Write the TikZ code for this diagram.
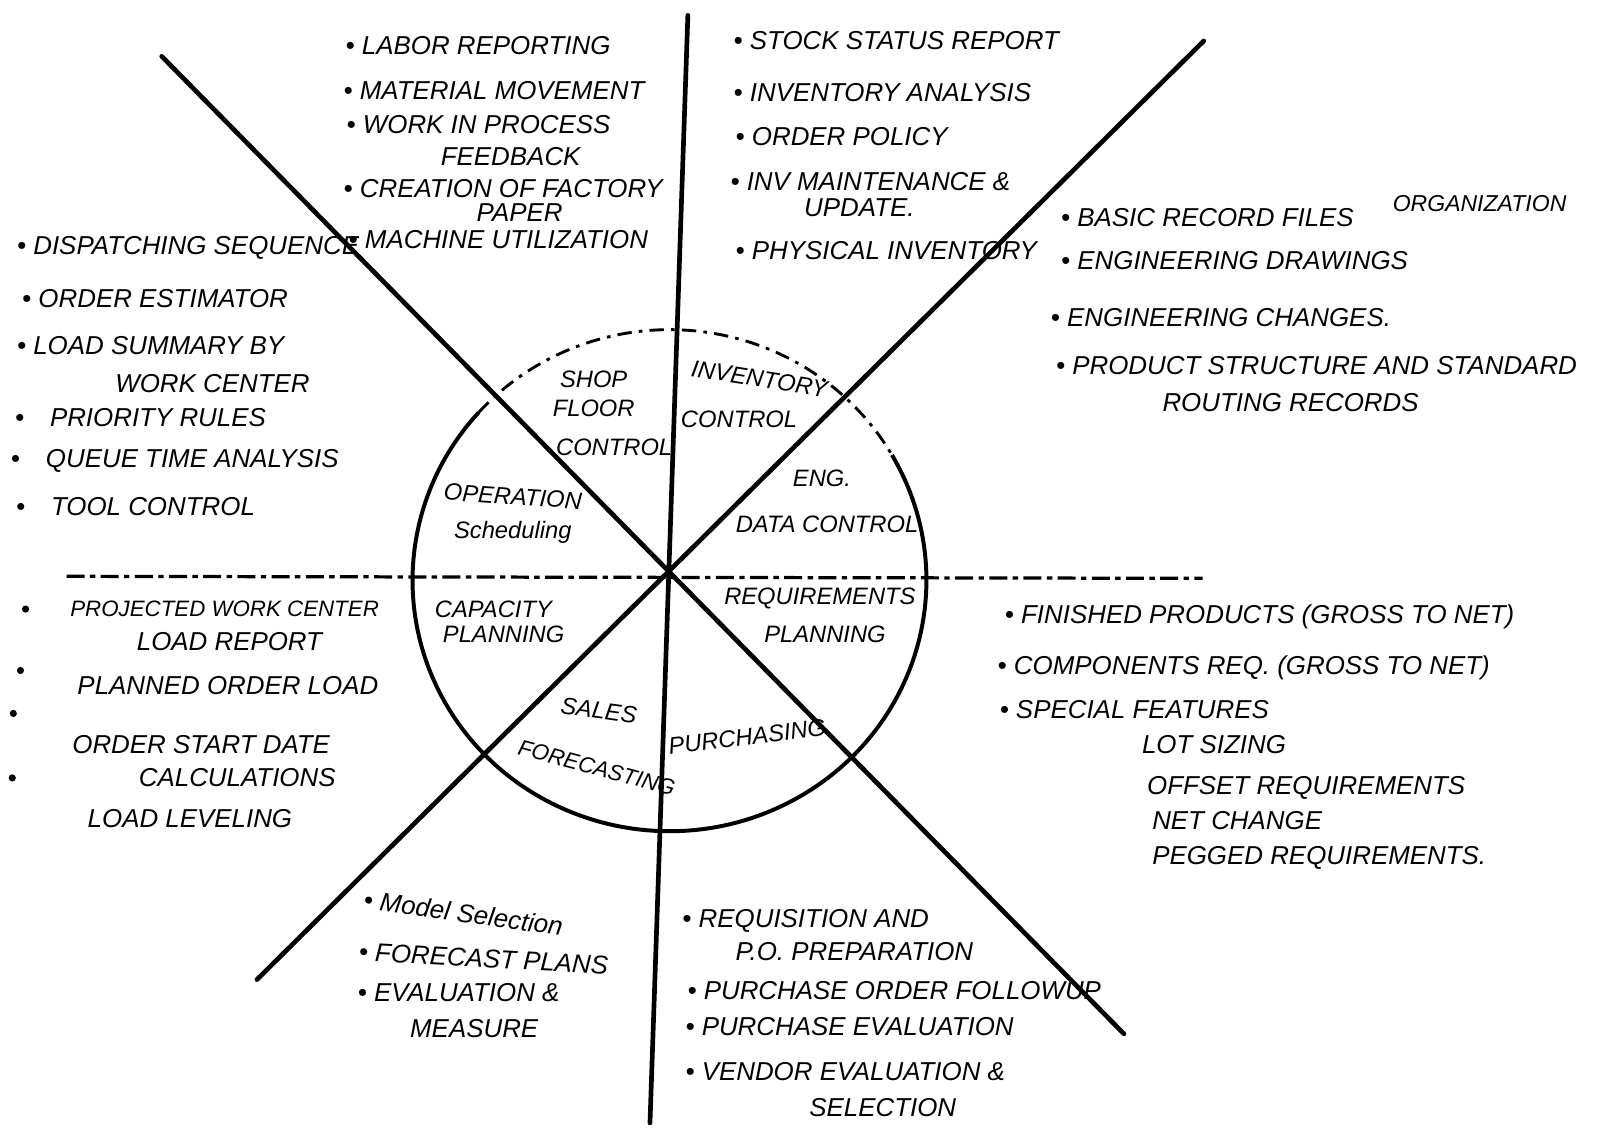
\documentclass[tikz,border=0pt]{standalone}
\usepackage{fontspec}
\newfontfamily\handfont{Liberation Sans}

\tikzset{
  note/.style={anchor=west,inner sep=0pt,font=\handfont\itshape\fontsize{7.2}{8}\selectfont},
  sector/.style={inner sep=0pt,align=center,font=\handfont\itshape\fontsize{6.6}{8}\selectfont},
  spoke/.style={line width=1.3pt,line cap=round},
  rim/.style={line width=1.1pt},
  splitline/.style={line width=0.9pt,dash pattern=on 5pt off 1.5pt on 1.5pt off 1.5pt},
}

\begin{document}
\begin{tikzpicture}[x=0.1mm,y=-0.1mm]
  \useasboundingbox (0,0) rectangle (1568,1106);

  \coordinate (hub) at (654,567);
  \coordinate (vtop) at (672,15);    \coordinate (vbot) at (635,1097);
  \coordinate (nwend) at (158,55);   \coordinate (seend) at (1098,1010);
  \coordinate (neend) at (1176,40);  \coordinate (swend) at (251,957);
  \coordinate (wend) at (65,563);    \coordinate (eend) at (1175,565);

  \draw[splitline] (wend)--(eend);
  \draw[rim] (871.4,444.5) arc[start angle=-30,end angle=222,x radius=251,y radius=245];
  \draw[line width=0.8pt,dash pattern=on 4pt off 2pt on 1pt off 2pt]
    (467.5,403.1) arc[start angle=-138,end angle=-30,x radius=251,y radius=245];
  \draw[spoke] (vtop)--(vbot) (nwend)--(seend) (neend)--(swend);

  \node[sector] (shop) at (580,385) {SHOP\\FLOOR};
  \node[sector] (shopb) at (600,437) {CONTROL};
  \node[sector,rotate=-9] (inv) at (742,370) {INVENTORY};
  \node[sector] (invb) at (722,410) {CONTROL};
  \node[sector] (eng) at (803,467) {ENG.};
  \node[sector] (engb) at (808,512) {DATA CONTROL};
  \node[sector,rotate=-4] (oper) at (501,485) {OPERATION};
  \node[sector] (operb) at (501,520) {Scheduling};
  \node[sector] (cap) at (482,595) {CAPACITY};
  \node[sector] (capb) at (492,620) {PLANNING};
  \node[sector] (req) at (801,585) {REQUIREMENTS};
  \node[sector] (reqb) at (806,620) {PLANNING};
  \node[sector,rotate=-8] (sales) at (585,694) {SALES};
  \node[sector,rotate=-15,font=\handfont\itshape\fontsize{6.2}{8}\selectfont] (salesb) at (583,750) {FORECASTING};
  \node[sector,rotate=7] (purch) at (730,720) {PURCHASING};

  \foreach \x/\y/\t [count=\i] in {
      337/45/{\textbullet\ LABOR REPORTING},
      335/88/{\textbullet\ MATERIAL MOVEMENT},
      338/122/{\textbullet\ WORK IN PROCESS},
      430/153/{FEEDBACK},
      335/184/{\textbullet\ CREATION OF FACTORY},
      465/208/{PAPER},
      340/234/{\textbullet\ MACHINE UTILIZATION}}
    \node[note] (shopl\i) at (\x,\y) {\t};

  \foreach \x/\y/\t [count=\i] in {
      716/40/{\textbullet\ STOCK STATUS REPORT},
      716/90/{\textbullet\ INVENTORY ANALYSIS},
      718/133/{\textbullet\ ORDER POLICY},
      713/177/{\textbullet\ INV MAINTENANCE \&},
      785/203/{UPDATE.},
      718/245/{\textbullet\ PHYSICAL INVENTORY}}
    \node[note] (invl\i) at (\x,\y) {\t};

  \foreach \x/\y/\t [count=\i] in {
      1036/213/{\textbullet\ BASIC RECORD FILES},
      1036/255/{\textbullet\ ENGINEERING DRAWINGS},
      1026/310/{\textbullet\ ENGINEERING CHANGES.},
      1031/357/{\textbullet\ PRODUCT STRUCTURE AND STANDARD},
      1135/393/{ROUTING RECORDS}}
    \node[note] (engl\i) at (\x,\y) {\t};
  \node[note,font=\handfont\itshape\fontsize{6.4}{7}\selectfont] (engorg) at (1360,199) {ORGANIZATION};

  \foreach \x/\y/\t [count=\i] in {
      16/242/{\textbullet\ DISPATCHING SEQUENCE},
      21/292/{\textbullet\ ORDER ESTIMATOR},
      16/338/{\textbullet\ LOAD SUMMARY BY},
      112/375/{WORK CENTER},
      14/408/{\textbullet\quad PRIORITY RULES},
      10/450/{\textbullet\quad QUEUE TIME ANALYSIS},
      15/495/{\textbullet\quad TOOL CONTROL}}
    \node[note] (operl\i) at (\x,\y) {\t};

  \foreach \x/\y in {25/595,20/655,13/697,12/760}
    \fill (\x,\y) circle[radius=3.5];
  \node[note,font=\handfont\itshape\fontsize{6.2}{8}\selectfont] (capl1) at (68,595) {PROJECTED WORK CENTER};
  \foreach \x/\y/\t [count=\i from 2] in {
      133/627/{LOAD REPORT},
      75/670/{PLANNED ORDER LOAD},
      70/727/{ORDER START DATE},
      135/760/{CALCULATIONS},
      85/800/{LOAD LEVELING}}
    \node[note] (capl\i) at (\x,\y) {\t};

  \foreach \x/\y/\t [count=\i] in {
      981/603/{\textbullet\ FINISHED PRODUCTS (GROSS TO NET)},
      974/652/{\textbullet\ COMPONENTS REQ. (GROSS TO NET)},
      976/693/{\textbullet\ SPECIAL FEATURES},
      1115/727/{LOT SIZING},
      1120/770/{OFFSET REQUIREMENTS},
      1125/802/{NET CHANGE},
      1125/838/{PEGGED REQUIREMENTS.}}
    \node[note] (reql\i) at (\x,\y) {\t};

  \node[note,rotate=-8] (salesl1) at (355,878) {\textbullet\ Model Selection};
  \node[note,rotate=-3] (salesl2) at (350,930) {\textbullet\ FORECAST PLANS};
  \node[note] (salesl3) at (349,970) {\textbullet\ EVALUATION \&};
  \node[note] (salesl4) at (400,1005) {MEASURE};

  \foreach \x/\y/\t [count=\i] in {
      666/900/{\textbullet\ REQUISITION AND},
      718/930/{P.O. PREPARATION},
      671/968/{\textbullet\ PURCHASE ORDER FOLLOWUP},
      669/1003/{\textbullet\ PURCHASE EVALUATION},
      669/1047/{\textbullet\ VENDOR EVALUATION \&},
      790/1082/{SELECTION}}
    \node[note] (purchl\i) at (\x,\y) {\t};
\end{tikzpicture}
\end{document}
